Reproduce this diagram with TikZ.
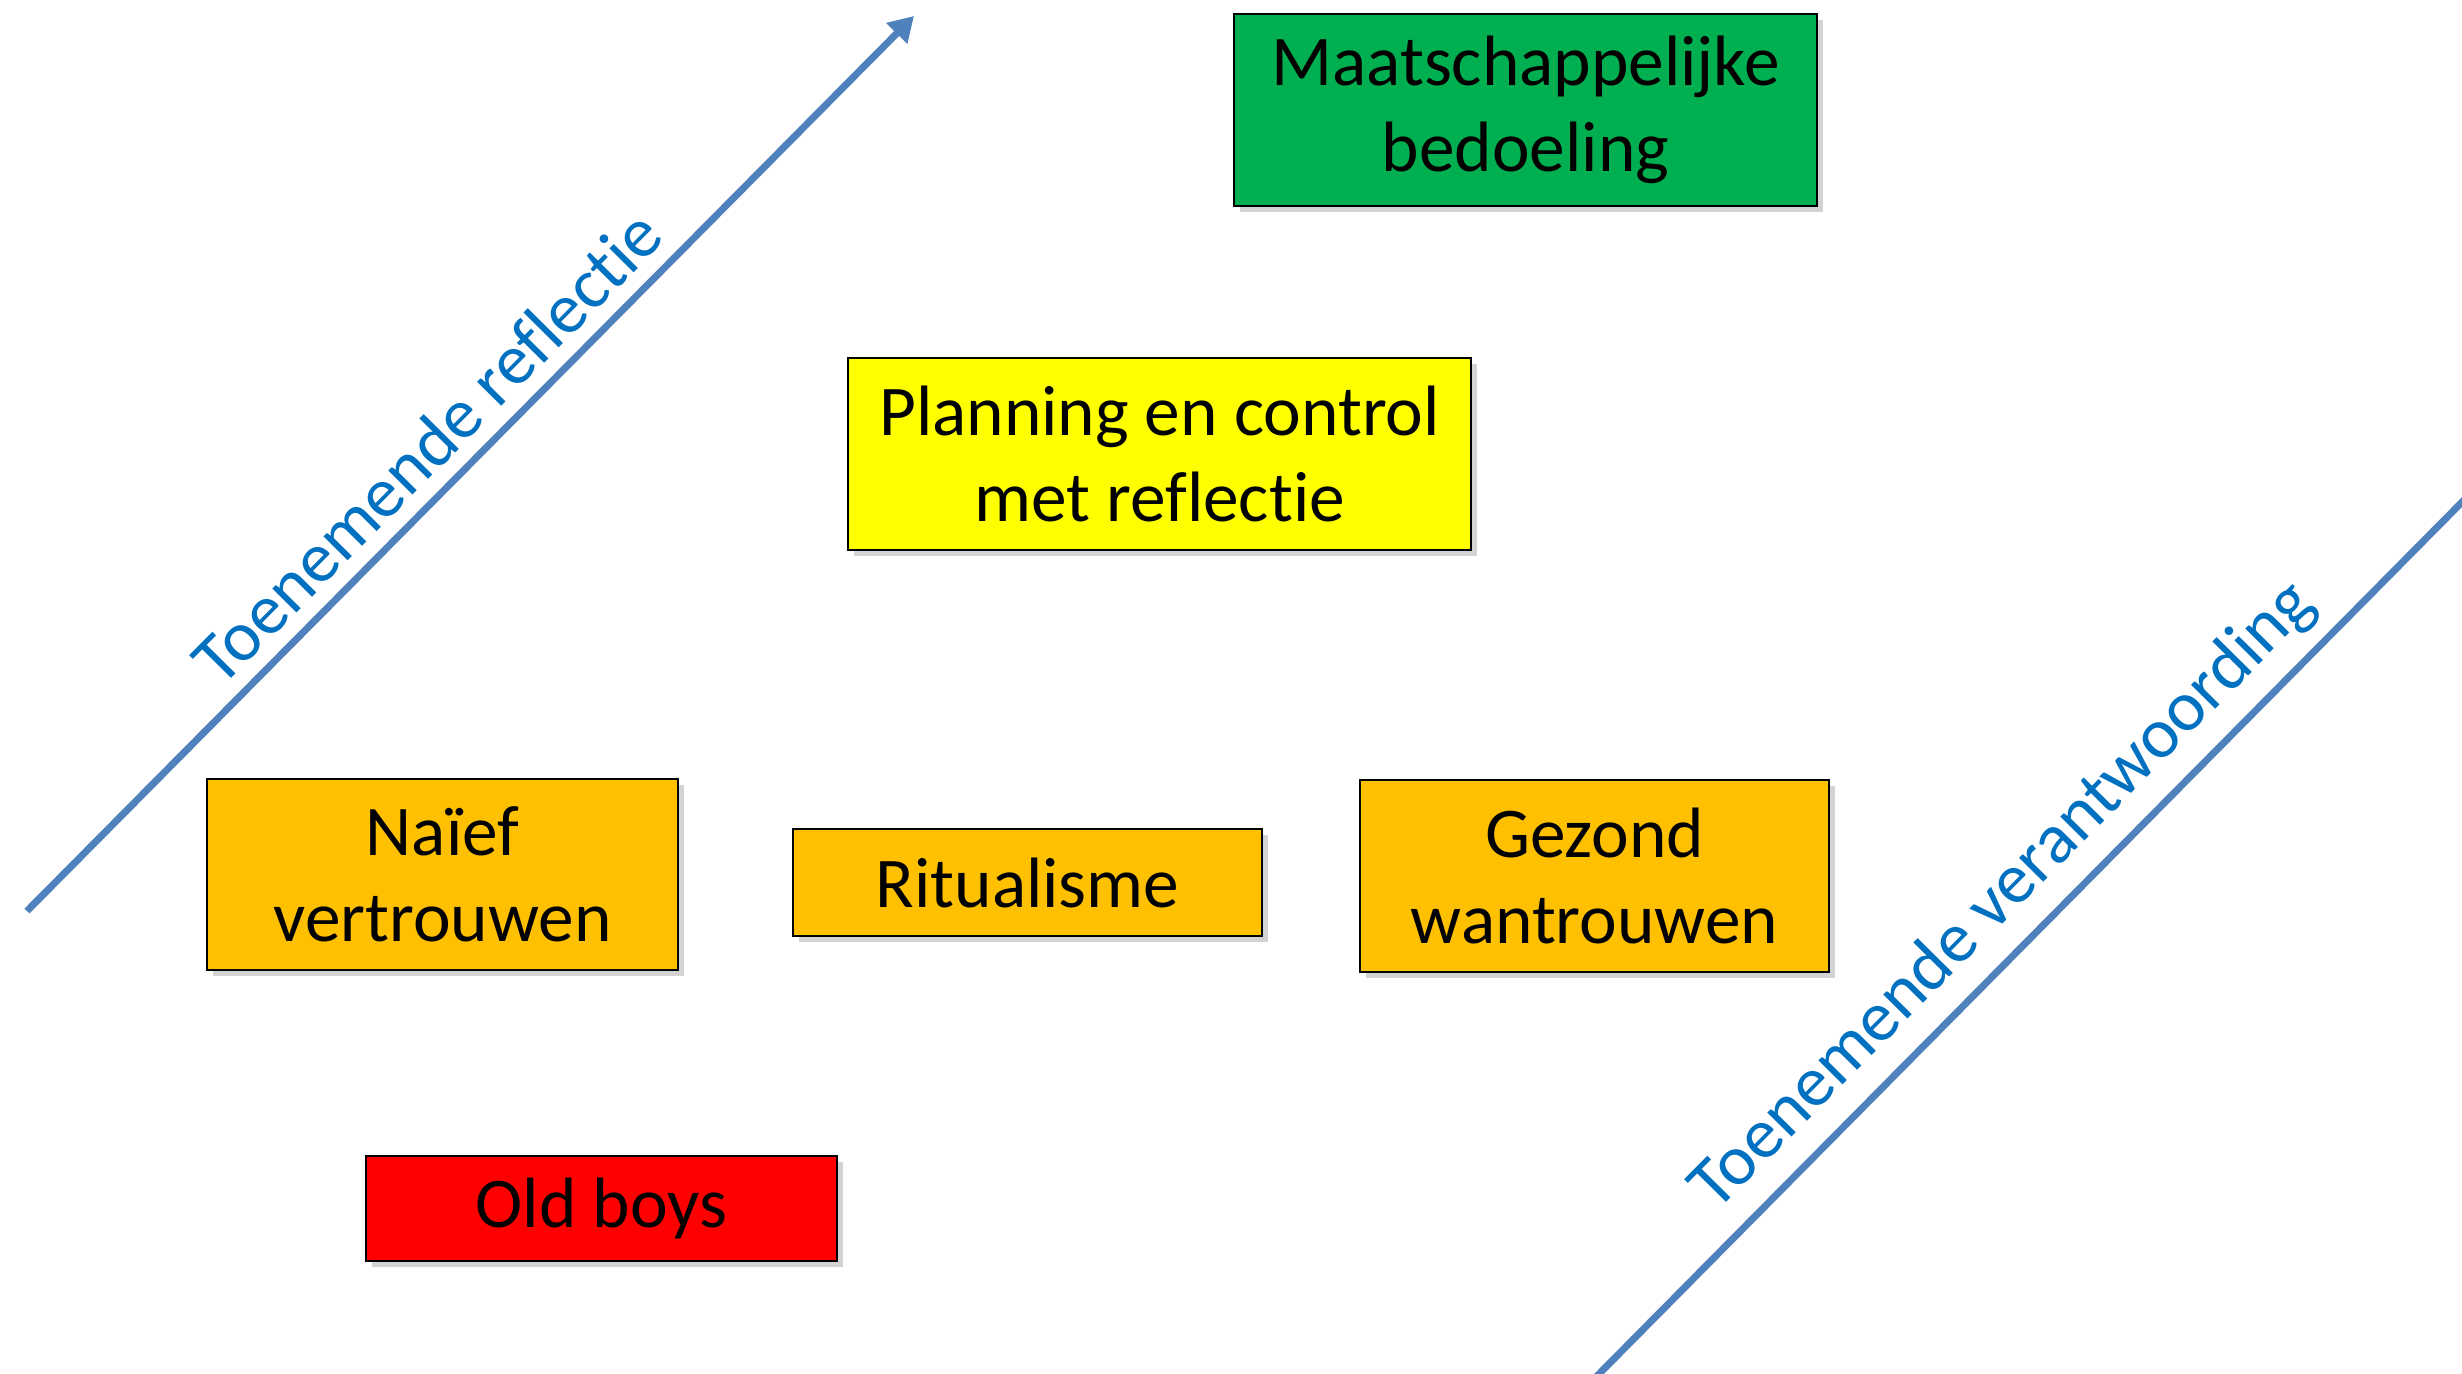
\documentclass[tikz,border=0pt]{standalone}
\usepackage{fontspec}
\setmainfont[Ligatures={NoCommon,NoDiscretionary}]{Carlito}
\usetikzlibrary{positioning}
\usetikzlibrary{arrows.meta,shadows}
\definecolor{lijn}{HTML}{4F81BD}
\definecolor{tekst}{HTML}{0070C0}
\definecolor{groen}{HTML}{00B050}
\definecolor{geel}{HTML}{FFFF00}
\definecolor{oranje}{HTML}{FFC000}
\definecolor{rood}{HTML}{FF0000}

\begin{document}
\begin{tikzpicture}[
		blok/.style = {
			draw=black, line width=0.8pt, align=center, inner sep=0pt,
			font=\fontsize{20.3}{24.6}\selectfont,
			drop shadow={opacity=0.35, shadow xshift=0.06, shadow yshift=-0.06}
		},
		as/.style = {line width=2pt, draw=lijn},
		aslabel/.style = {text=tekst, font=\fontsize{20.3}{24}\selectfont, sloped, above, inner sep=4pt}
		]
		\useasboundingbox (0,0) rectangle (24.62,13.73);
		\clip (0,0) rectangle (24.62,13.73);
		
		\node at (15.255,12.63) (maatsch) [blok, fill=groen, minimum width=5.83cm, minimum height=1.92cm] {Maatschappelijke\\bedoeling};
		\node at (11.595,9.19) (planning) [blok, fill=geel, minimum width=6.23cm, minimum height=1.92cm] {Planning en control\\met reflectie};
		\node at (4.425,4.985) (naief) [blok, fill=oranje, minimum width=4.71cm, minimum height=1.91cm] {Naïef\\vertrouwen};
		\node at (10.275,4.905) (ritueel) [blok, fill=oranje, minimum width=4.69cm, minimum height=1.07cm] {Ritualisme};
		\node at (15.945,4.97) (gezond) [blok, fill=oranje, minimum width=4.69cm, minimum height=1.92cm] {Gezond\\wantrouwen};
		\node at (6.015,1.645) (oldboys) [blok, fill=rood, minimum width=4.71cm, minimum height=1.05cm] {Old boys};
		
		\coordinate (r0) at (0.27,4.62);
		\coordinate (r1) at (9.14,13.57);
		\coordinate (v0) at (15.95,-0.05);
		\coordinate (v1) at (24.72,8.81);
		
		\draw [as, -{Triangle[length=7pt, width=8pt]}] (r0) -- (r1)
		node[aslabel, pos=0.485] {Toenemende reflectie};
		\draw [as] (v0) -- (v1)
		node[aslabel, pos=0.505] {Toenemende verantwoording};
	\end{tikzpicture}
\end{document}
